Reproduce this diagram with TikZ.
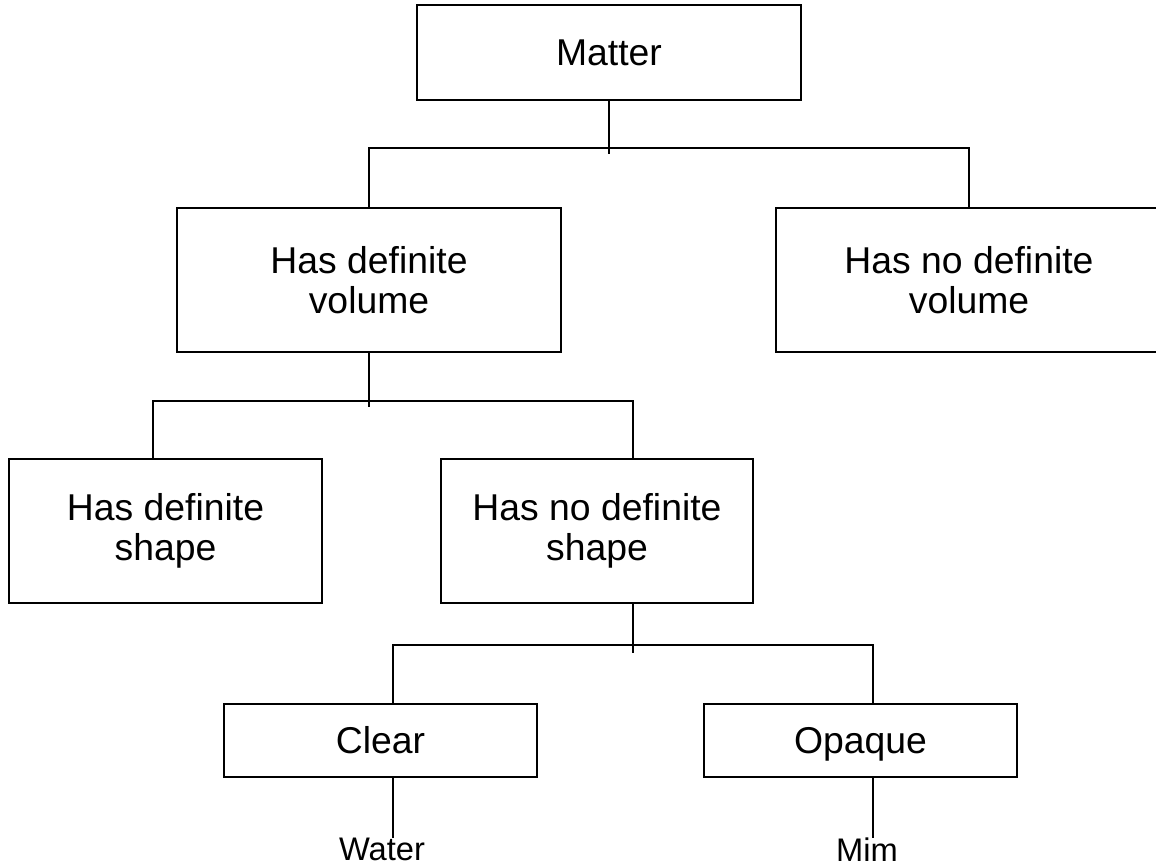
\documentclass[tikz,border=0pt]{standalone}
\usepackage{fontspec}
\setmainfont{Liberation Sans}
\usetikzlibrary{positioning}

\begin{document}
\begin{tikzpicture}[x=0.75pt, y=-0.75pt,
    kasten/.style={draw, line width=1.5pt, rectangle, inner sep=0pt, align=center,
      font=\fontsize{28pt}{30.5pt}\selectfont},
    gross/.style={kasten, minimum width=288pt, minimum height=108pt},
    mittel/.style={kasten, minimum width=234.75pt, minimum height=108pt},
    flach/.style={kasten, minimum width=234.75pt, minimum height=54.75pt,
      text height=20pt, text depth=0pt},
    blatt/.style={inner sep=0pt, anchor=north, font=\fontsize{24.5pt}{27pt}\selectfont},
    linie/.style={line width=1.1pt}]

        % Rahmen
        \fill[white] (0,0) rectangle (1156,867);
        \useasboundingbox (0,0) rectangle (1156,867);
        \clip (0,0) rectangle (1156,867);

        % Kästen
        \node[gross, minimum height=71.25pt] (matter) at (609,52.5) {Matter};
        \node[gross] (hdv) at (369,280) {Has definite\\volume};
        \node[gross, minimum width=289.5pt] (hndv) at (969,280) {Has no definite\\volume};
        \node[mittel] (hds) at (165.5,531) {Has definite\\shape};
        \node[mittel, minimum width=234pt] (hnds) at (597,531) {Has no definite\\shape};
        \node[flach] (clear) at (380.5,740.5) {Clear};
        \node[flach] (opaque) at (860.5,740.5) {Opaque};

        % Beispiele
        \node[blatt] (water) at (382,838) {Water};
        \node[blatt] (mim) at (867,838) {Mim};

        % Verzweigungspunkte
        \coordinate (b1) at (609,148);
        \coordinate (b2l) at (153,401);
        \coordinate (b2r) at (633,401);
        \coordinate (b3l) at (393,645);
        \coordinate (b3r) at (873,645);

        % Linien
        \draw[linie] (matter.south) -- ++(0,53);
        \draw[linie] (hdv.north) -- (hdv.north |- b1) -- (hndv.north |- b1) -- (hndv.north);
        \draw[linie] (hdv.south) -- ++(0,54);
        \draw[linie] (b2l |- hds.north) -- (b2l) -- (b2r) -- (b2r |- hnds.north);
        \draw[linie] (b2r |- hnds.south) -- ++(0,49);
        \draw[linie] (b3l |- clear.north) -- (b3l) -- (b3r) -- (b3r |- opaque.north);
        \draw[linie] (b3l |- clear.south) -- (b3l |- water.north);
        \draw[linie] (b3r |- opaque.south) -- (b3r |- mim.north);

    \end{tikzpicture}
\end{document}
